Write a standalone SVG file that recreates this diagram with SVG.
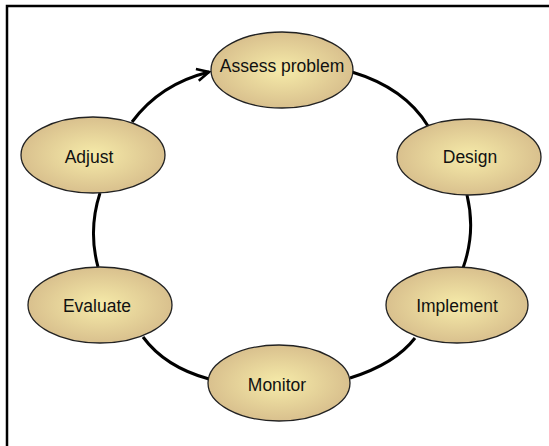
<svg xmlns="http://www.w3.org/2000/svg" width="549" height="446" viewBox="0 0 549 446">
<defs>
<radialGradient id="g" cx="50%" cy="50%" r="55%">
<stop offset="0" stop-color="#f6eba9"/>
<stop offset="1" stop-color="#d6bc8b"/>
</radialGradient>
<marker id="arr" viewBox="0 0 16 16" refX="14" refY="8" markerWidth="16" markerHeight="16" markerUnits="userSpaceOnUse" orient="auto">
<path d="M2,2 L14,8 L2,14" fill="none" stroke="#000" stroke-width="2.6"/>
</marker>
</defs>
<style>
.n ellipse{fill:url(#g);stroke:#222;stroke-width:1.3}
.n text{font-family:"Liberation Sans",Arial,sans-serif;font-size:17.5px;fill:#111;text-anchor:middle}
.c path{fill:none;stroke:#000;stroke-width:3}
</style>
<rect width="549" height="446" fill="#fff"/>
<path d="M7,446 V6 H549" fill="none" stroke="#000" stroke-width="2.5"/>
<g id="connectors" class="c">
<path d="M352,72 Q405,88 428,126"/>
<path d="M467,195 Q476,232 463,268"/>
<path d="M415,338 Q395,364 350,378"/>
<path d="M143,337 Q165,367 209,379"/>
<path d="M98,267 Q88,230 100,193"/>
<path d="M132,122 Q160,84 209,72" marker-end="url(#arr)"/>
</g>
<g id="assess" class="n"><ellipse cx="282" cy="70" rx="71" ry="38"/><text x="282" y="72">Assess problem</text></g>
<g id="design" class="n"><ellipse cx="469" cy="157" rx="72" ry="38"/><text x="470" y="163">Design</text></g>
<g id="implement" class="n"><ellipse cx="457" cy="305" rx="71" ry="38"/><text x="457" y="312">Implement</text></g>
<g id="monitor" class="n"><ellipse cx="279" cy="383" rx="71" ry="38"/><text x="277" y="391">Monitor</text></g>
<g id="evaluate" class="n"><ellipse cx="100" cy="305" rx="72" ry="38"/><text x="97" y="312">Evaluate</text></g>
<g id="adjust" class="n"><ellipse cx="93" cy="155" rx="72" ry="38"/><text x="89" y="163">Adjust</text></g>
</svg>
